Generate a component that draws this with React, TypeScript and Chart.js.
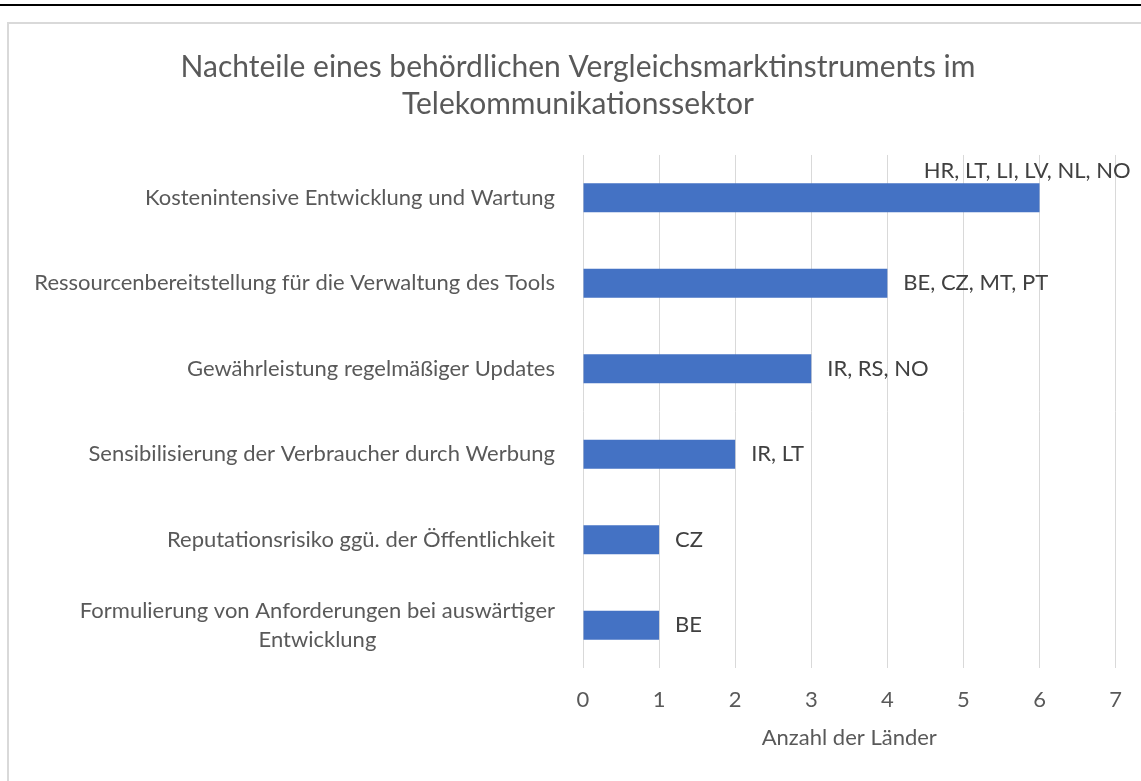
import React, { useEffect, useRef } from "react";
import { Chart, registerables } from "chart.js";

Chart.register(...registerables);

const titleLines = [
  "Nachteile eines behördlichen Vergleichsmarktinstruments im",
  "Telekommunikationssektor",
];
const categories: (string | string[])[] = [
  "Kostenintensive Entwicklung und Wartung",
  "Ressourcenbereitstellung für die Verwaltung des Tools",
  "Gewährleistung regelmäßiger Updates",
  "Sensibilisierung der Verbraucher durch Werbung",
  "Reputationsrisiko ggü. der Öffentlichkeit",
  ["Formulierung von Anforderungen bei auswärtiger", "Entwicklung"],
];
const values = [6, 4, 3, 2, 1, 1];
const countryLabels = [
  "HR, LT, LI, LV, NL, NO",
  "BE, CZ, MT, PT",
  "IR, RS, NO",
  "IR, LT",
  "CZ",
  "BE",
];
const xTicks = [0, 1, 2, 3, 4, 5, 6, 7];
const xAxisTitle = "Anzahl der Länder";

const FONT = "Lato, 'Open Sans', sans-serif";
const BAR_COLOR = "#4472C4";
const AXIS_TEXT = "#595959";
const LABEL_TEXT = "#404040";
const GRID = "#d9d9d9";

const labelsPlugin = {
  id: "customLabels",
  afterDatasetsDraw(chart: any) {
    const ctx = chart.ctx;
    const yScale = chart.scales.y;
    const meta = chart.getDatasetMeta(0);
    ctx.save();
    // category labels
    ctx.font = `22px ${FONT}`;
    ctx.fillStyle = AXIS_TEXT;
    ctx.textBaseline = "middle";
    const rightEdge = chart.chartArea.left - 28;
    const lh = 29;
    categories.forEach((cat, i) => {
      const y = yScale.getPixelForValue(i);
      const lines = Array.isArray(cat) ? cat : [cat];
      const widths = lines.map((l) => ctx.measureText(l).width);
      const maxW = Math.max(...widths);
      const cx = rightEdge - maxW / 2;
      ctx.textAlign = "center";
      lines.forEach((l, j) => {
        const ly = y + (j - (lines.length - 1) / 2) * lh;
        ctx.fillText(l, cx, ly);
      });
    });
    // data labels
    ctx.font = `22px ${FONT}`;
    ctx.fillStyle = LABEL_TEXT;
    meta.data.forEach((bar: any, i: number) => {
      const text = countryLabels[i];
      const w = ctx.measureText(text).width;
      let x = bar.x + 16;
      let y = bar.y;
      if (x + w > chart.width - 8) {
        x = chart.chartArea.right + 15 - w;
        y = bar.y - bar.height / 2 - 12;
      }
      ctx.textAlign = "left";
      ctx.fillText(text, x, y);
    });
    ctx.restore();
  },
};

function App() {
  const ref = useRef<HTMLCanvasElement | null>(null);
  useEffect(() => {
    if (!ref.current) return;
    const chart = new Chart(ref.current, {
      type: "bar",
      data: {
        labels: categories as any,
        datasets: [
          {
            data: values,
            backgroundColor: BAR_COLOR,
            borderWidth: 0,
            barPercentage: 0.34,
            categoryPercentage: 1,
          },
        ],
      },
      options: {
        indexAxis: "y",
        animation: false,
        responsive: false,
        layout: { padding: { left: 40, right: 25, top: 0, bottom: 0 } },
        plugins: {
          legend: { display: false },
          tooltip: { enabled: false },
          title: {
            display: true,
            text: titleLines,
            color: AXIS_TEXT,
            font: { family: FONT, size: 30, weight: "normal", lineHeight: 1.233 },
            padding: { top: 48.5, bottom: 32.5 },
          },
        },
        scales: {
          x: {
            min: 0,
            max: 7,
            afterBuildTicks: (scale: any) => {
              scale.ticks = xTicks.map((v) => ({ value: v }));
            },
            afterFit: (scale: any) => {
              scale.height = 113;
            },
            grid: { color: GRID, lineWidth: 1, drawTicks: false },
            border: { display: false },
            ticks: {
              color: AXIS_TEXT,
              font: { family: FONT, size: 22 },
              padding: 19,
            },
            title: {
              display: true,
              text: xAxisTitle,
              color: AXIS_TEXT,
              font: { family: FONT, size: 22 },
              padding: { top: 0, bottom: 30 },
            },
          },
          y: {
            grid: { display: false },
            border: { display: false },
            ticks: { display: false },
            afterFit: (scale: any) => {
              scale.width = 543;
            },
          },
        },
      },
      plugins: [labelsPlugin],
    });
    return () => chart.destroy();
  }, []);

  return (
    <div
      style={{
        position: "fixed",
        left: 0,
        top: 0,
        width: 1141,
        height: 781,
        overflow: "hidden",
        background: "#fff",
      }}
    >
      <div
        style={{
          position: "absolute",
          left: 0,
          top: 4,
          width: 1141,
          height: 2,
          background: "#000",
        }}
      />
      <div
        style={{
          position: "absolute",
          left: 7,
          top: 22,
          width: 1200,
          height: 800,
          border: "2px solid #d9d9d9",
          boxSizing: "border-box",
        }}
      />
      <canvas
        ref={ref}
        width={1141}
        height={781}
        style={{ position: "absolute", left: 0, top: 0, width: 1141, height: 781 }}
      />
    </div>
  );
}

export default App;
